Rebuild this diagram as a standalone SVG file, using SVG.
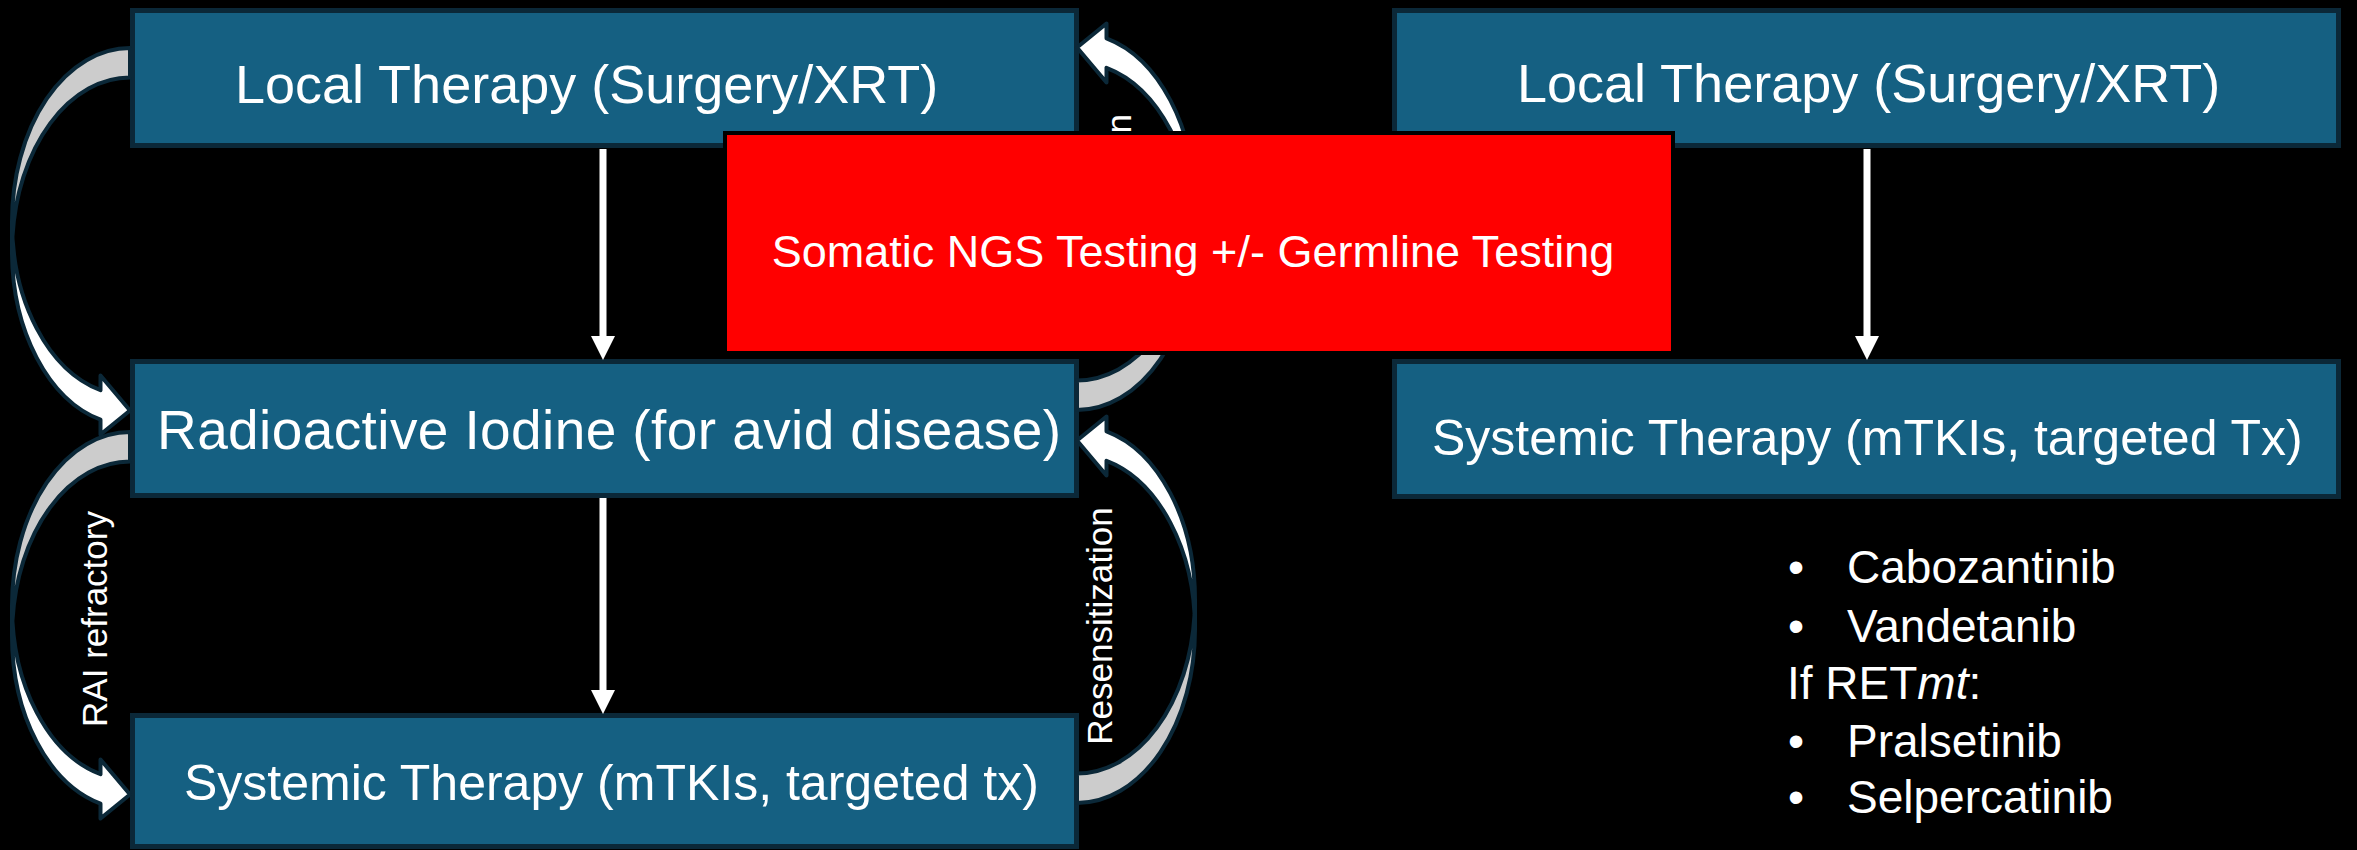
<svg xmlns="http://www.w3.org/2000/svg" xmlns:xlink="http://www.w3.org/1999/xlink" width="2357" height="850" viewBox="0 0 2357 850">
<style>
  .box{fill:#156082;stroke:#0B2838;stroke-width:5}
  .t{font-family:"Liberation Sans",Arial,sans-serif;fill:#ffffff}
  .front{fill:#ffffff}
  .back{fill:#cccccc}
  .ol{fill:none;stroke:#0B2838;stroke-width:4;stroke-linejoin:round}
  .conn{stroke:#ffffff;stroke-width:7;fill:none}
</style>
<defs>
  <marker id="ah" markerUnits="userSpaceOnUse" markerWidth="24" markerHeight="24" viewBox="0 0 23 23" refX="0" refY="11.5" orient="auto">
    <path d="M0 0 L23 11.5 L0 23 Z" fill="#ffffff"/>
  </marker>
  <g id="carrow">
    <path class="front" d="M0 173.875 A118 173.875 0 0 0 88.5 342.23 L88.5 327.48 L118 362.5 L88.5 386.48 L88.5 371.73 A118 173.875 0 0 1 0 203.375 Z"/>
    <path class="back" d="M118 29.5 A118 173.875 0 0 0 0.43 188.63 A118 173.875 0 0 1 118 0 Z"/>
    <path class="ol" d="M0 173.875 A118 173.875 0 0 0 88.5 342.23 L88.5 327.48 L118 362.5 L88.5 386.48 L88.5 371.73 A118 173.875 0 0 1 0 203.375 L0 173.875 A118 173.875 0 0 1 118 0 L118 29.5 A118 173.875 0 0 0 0.43 188.63"/>
  </g>
</defs>
<rect x="0" y="0" width="2357" height="850" fill="#000000"/>

<g id="local-left">
  <rect class="box" x="132.5" y="10.5" width="944" height="135"/>
  <text class="t" x="235" y="103" font-size="54">Local Therapy (Surgery/XRT)</text>
</g>
<g id="rai">
  <rect class="box" x="132.5" y="361.5" width="944" height="134"/>
  <text class="t" x="157" y="449" font-size="55" textLength="904">Radioactive Iodine (for avid disease)</text>
</g>
<g id="systemic-left">
  <rect class="box" x="132.5" y="715.5" width="944" height="131"/>
  <text class="t" x="184" y="800" font-size="50">Systemic Therapy (mTKIs, targeted tx)</text>
</g>
<g id="local-right">
  <rect class="box" x="1394.5" y="10.5" width="944" height="135"/>
  <text class="t" x="1517" y="102" font-size="54">Local Therapy (Surgery/XRT)</text>
</g>
<g id="systemic-right">
  <rect class="box" x="1394.5" y="361.5" width="944" height="135"/>
  <text class="t" x="1432" y="455" font-size="50">Systemic Therapy (mTKIs, targeted Tx)</text>
</g>
<g id="drug-list" class="t" font-size="46">
  <text x="1788" y="583">•</text><text x="1847" y="583">Cabozantinib</text>
  <text x="1788" y="642">•</text><text x="1847" y="642">Vandetanib</text>
  <text x="1787" y="699">If RET<tspan font-style="italic">mt</tspan>:</text>
  <text x="1788" y="757">•</text><text x="1847" y="757">Pralsetinib</text>
  <text x="1788" y="813">•</text><text x="1847" y="813">Selpercatinib</text>
</g>

<g id="connectors">
  <line class="conn" x1="603" y1="149" x2="603" y2="336" marker-end="url(#ah)"/>
  <line class="conn" x1="603" y1="498" x2="603" y2="690" marker-end="url(#ah)"/>
  <line class="conn" x1="1867" y1="149" x2="1867" y2="336" marker-end="url(#ah)"/>
  <use xlink:href="#carrow" href="#carrow" transform="translate(12,48)"/>
  <use xlink:href="#carrow" href="#carrow" transform="translate(12,432)"/>
  <use xlink:href="#carrow" href="#carrow" transform="translate(1195,410) rotate(180)"/>
  <use xlink:href="#carrow" href="#carrow" transform="translate(1195,803) rotate(180)"/>
  <text class="t" font-size="35" text-anchor="middle" transform="translate(107,619) rotate(-90)">RAI refractory</text>
  <text class="t" font-size="35" text-anchor="middle" transform="translate(1112,626) rotate(-90)">Resensitization</text>
  <text class="t" font-size="35" text-anchor="end" transform="translate(1131,114) rotate(-90)">n</text>
</g>

<g id="ngs-testing">
  <rect x="725" y="133" width="948" height="220" fill="#ff0000" stroke="#000000" stroke-width="4"/>
  <text class="t" x="1193" y="267" font-size="45" text-anchor="middle">Somatic NGS Testing +/- Germline Testing</text>
</g>
</svg>
